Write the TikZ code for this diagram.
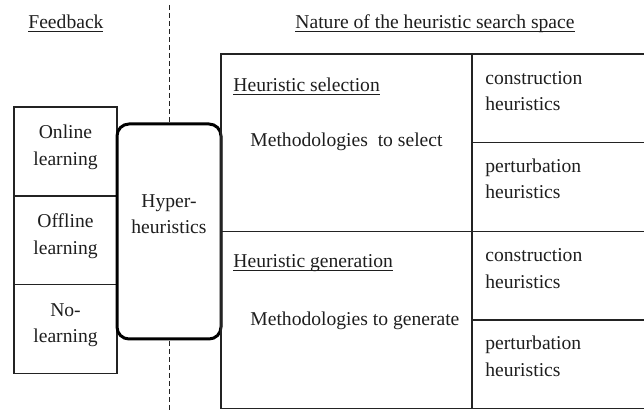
\documentclass[tikz,border=0pt]{standalone}
\usepackage{fontspec}
\setmainfont{Liberation Serif}
\usetikzlibrary{positioning}
\definecolor{hhInk}{RGB}{30,30,30}
\definecolor{hhLine}{RGB}{35,35,35}

\begin{document}
\begin{tikzpicture}[
    x=0.5pt, y=-0.5pt,
    every node/.style={font=\fontsize{9.8}{13.3}\selectfont, text=hhInk},
    learnbox/.style={draw=hhLine, line width=0.7pt, minimum width=51.5pt, minimum height=44.4pt, inner sep=0pt, outer sep=0pt, align=center, text depth=6pt},
    hyperbox/.style={draw=black, line width=1.5pt, rounded corners=6pt, fill=white, minimum width=52pt, minimum height=107.5pt, inner sep=0pt},
    methodcell/.style={draw=hhLine, line width=0.7pt, minimum width=125.5pt, minimum height=88.7pt, inner sep=0pt, outer sep=0pt},
    kindcell/.style={draw=hhLine, line width=0.7pt, minimum width=87pt, minimum height=44.35pt, inner sep=0pt, outer sep=0pt},
    heading/.style={anchor=base west, inner sep=0pt},
    celltext/.style={anchor=base west, inner sep=0pt, align=left},
    divider/.style={draw=hhLine, line width=0.5pt, dash pattern=on 2.5pt off 1.5pt}
]
    \clip (0,0) rectangle (644,410);

    \node[heading] (feedback) at (28,29) {\underline{\smash{Feedback}}};
    \node[heading] (nature) at (295,29) {\underline{\smash{Nature of the heuristic search space}}};

    \coordinate (divtop) at (169,5);
    \coordinate (divbot) at (169,410);
    \draw[divider] (divtop) -- (divbot);

    \node[learnbox] (online) at (65.5,151.5) {Online\\learning};
    \node[learnbox, below=0pt of online] (offline) {Offline\\learning};
    \node[learnbox, below=0pt of offline] (nolearn) {No-\\learning};

    \node[hyperbox] (hyper) at (169,231.5) {};
    \node[align=center] (hypertext) at (169,214) {Hyper-\\heuristics};

    \node[methodcell, anchor=north west] (select) at (221,54) {};
    \node[methodcell, below=0pt of select] (generate) {};
    \node[kindcell, anchor=north west] (selcons) at (select.north east) {};
    \node[kindcell, below=0pt of selcons] (selpert) {};
    \node[kindcell, anchor=north west] (gencons) at (generate.north east) {};
    \node[kindcell, below=0pt of gencons] (genpert) {};

    \node[heading] (selhead) at ([shift={(12,38)}]select.north west) {\underline{\smash{Heuristic selection}}};
    \node[heading] (seltext) at ([shift={(29,93)}]select.north west) {Methodologies\ \ to select};
    \node[heading] (genhead) at ([shift={(12,36)}]generate.north west) {\underline{\smash{Heuristic generation}}};
    \node[heading] (gentext) at ([shift={(29,94)}]generate.north west) {Methodologies to generate};

    \node[celltext] (selconstext) at ([shift={(13,57)}]selcons.north west) {construction\\heuristics};
    \node[celltext] (selperttext) at ([shift={(13,56)}]selpert.north west) {perturbation\\heuristics};
    \node[celltext] (genconstext) at ([shift={(13,57)}]gencons.north west) {construction\\heuristics};
    \node[celltext] (genperttext) at ([shift={(13,56)}]genpert.north west) {perturbation\\heuristics};
\end{tikzpicture}
\end{document}
